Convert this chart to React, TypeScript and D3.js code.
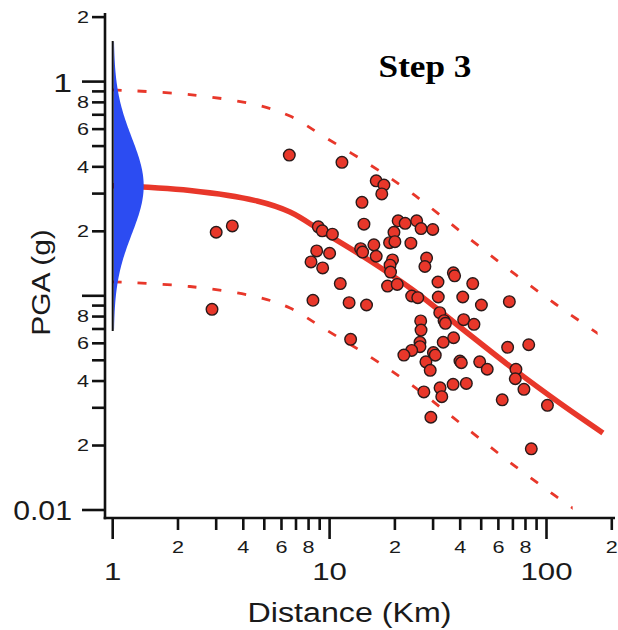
import React from "react";
import * as d3 from "d3";

// ---- data ----
// observed records: [distance km, PGA g]
const records: [number, number][] = [
  [6.52, 0.454], [11.4, 0.42], [14.1, 0.273], [14.4, 0.216], [3.0, 0.198], [3.56, 0.212],
  [8.87, 0.21], [9.25, 0.201], [10.3, 0.194], [8.72, 0.162], [10.0, 0.158], [8.21, 0.144],
  [9.29, 0.135], [11.2, 0.114], [13.9, 0.166], [14.2, 0.16], [16.4, 0.344], [17.8, 0.329],
  [17.4, 0.299], [20.7, 0.224], [22.3, 0.218], [25.2, 0.224], [26.4, 0.206], [29.9, 0.204],
  [19.8, 0.198], [18.9, 0.177], [20.0, 0.179], [23.7, 0.176], [16.0, 0.173], [16.4, 0.153],
  [19.5, 0.147], [19.0, 0.139], [19.1, 0.129], [28.0, 0.15], [27.5, 0.137], [37.2, 0.128],
  [37.7, 0.124], [31.6, 0.116], [45.7, 0.114], [18.5, 0.111], [20.5, 0.113], [2.87, 0.0865],
  [8.38, 0.0953], [12.3, 0.0929], [14.8, 0.0906], [12.5, 0.0626], [23.9, 0.0998], [25.5, 0.098],
  [31.7, 0.0987], [41.1, 0.0987], [50.1, 0.0906], [67.4, 0.0939], [26.3, 0.0763], [26.4, 0.0692],
  [32.2, 0.0834], [33.7, 0.0765], [34.2, 0.0744], [41.5, 0.0774], [46.3, 0.0736], [37.3, 0.0637],
  [33.4, 0.0607], [26.1, 0.0607], [26.1, 0.0579], [23.9, 0.0556], [22.0, 0.0529], [30.1, 0.0543],
  [30.7, 0.0528], [27.8, 0.0492], [29.1, 0.0449], [39.9, 0.0496], [40.5, 0.0487], [49.2, 0.0492],
  [53.3, 0.0454], [66.2, 0.0575], [82.8, 0.0591], [72.3, 0.0454], [71.8, 0.041], [78.7, 0.0366],
  [62.5, 0.0327], [101, 0.0308], [27.2, 0.0356], [32.3, 0.0372], [32.9, 0.0338], [37.1, 0.0386],
  [42.7, 0.039], [29.3, 0.0271], [85.1, 0.0193],
];

// median ground-motion model curve: [distance km, PGA g]
const medianCurve: [number, number][] = [
  [1, 0.326], [2.27, 0.31], [4.63, 0.277], [6.57, 0.246], [9.32, 0.1986], [15.4, 0.1454],
  [24.2, 0.1065], [44.4, 0.0656], [72.3, 0.0446], [115, 0.0316], [182, 0.0229],
];
const sigmaLog10 = 0.224; // model standard deviation (log10 units)
const bandWidthSigmas = 2; // dashed lines at +/- 2 sigma
const upperBandEnd = 172; // km
const lowerBandEnd = 132; // km

// axes
const xMajorTicks = [1, 10, 100];
const xMajorLabels = ["1", "10", "100"];
const xMinorTicks = [2, 3, 4, 5, 6, 7, 8, 9, 20, 30, 40, 50, 60, 70, 80, 90, 200];
const xMinorLabeled = [2, 4, 6, 8, 20, 40, 60, 80, 200];
const yMajorTicks = [1, 0.1, 0.01];
const yMajorLabeled: [number, string][] = [[1, "1"], [0.01, "0.01"]];
const yMinorTicks = [2, 0.9, 0.8, 0.7, 0.6, 0.5, 0.4, 0.3, 0.2, 0.09, 0.08, 0.07, 0.06, 0.05, 0.04, 0.03, 0.02];
const yMinorLabeled = [2, 0.8, 0.6, 0.4, 0.2, 0.08, 0.06, 0.04, 0.02];

const W = 618;
const H = 630;
const RED = "#e8372a";
const BLUE = "#2c4cf2";
const SANS = "'Liberation Sans', Arial, Helvetica, sans-serif";

const leadDigit = (v: number) => String(Math.round(v / Math.pow(10, Math.floor(Math.log10(v) + 1e-9))));

export default function App() {
  const x = d3.scaleLog().domain([1, 100]).range([112.7, 546.5]);
  const y = d3.scaleLog().domain([0.01, 1]).range([510, 81.6]);

  const axisX0 = 105;
  const axisY0 = 518;

  const line = d3
    .line<[number, number]>()
    .x((d) => x(d[0]))
    .y((d) => y(d[1]))
    .curve(d3.curveCatmullRom.alpha(0.5));
  const factor = Math.pow(10, bandWidthSigmas * sigmaLog10);
  const upper = medianCurve.map(([d, v]) => [d, v * factor] as [number, number]);
  const lower = medianCurve.map(([d, v]) => [d, v / factor] as [number, number]);

  // density of the model at 1 km (log-normal), drawn sideways
  const m0 = medianCurve[0][1];
  const zs = d3.range(-3, 3.0001, 0.05);
  const densMax = 30;
  const area = d3
    .area<number>()
    .y((z) => y(m0 * Math.pow(10, z * sigmaLog10)))
    .x0(() => x(1) + 1)
    .x1((z) => x(1) + 1 + densMax * Math.exp((-z * z) / 2))
    .curve(d3.curveBasis);

  return (
    <svg width={W} height={H} style={{ position: "absolute", left: 0, top: 0, background: "#fff" }}>
      <defs>
        <clipPath id="clipUp">
          <rect x={0} y={0} width={x(upperBandEnd)} height={H} />
        </clipPath>
        <clipPath id="clipLo">
          <rect x={0} y={0} width={x(lowerBandEnd)} height={H} />
        </clipPath>
      </defs>

      {/* band lines */}
      <path d={line(upper) || ""} fill="none" stroke={RED} strokeWidth={2.8} strokeDasharray="9 16" clipPath="url(#clipUp)" />
      <path d={line(lower) || ""} fill="none" stroke={RED} strokeWidth={2.8} strokeDasharray="9 16" clipPath="url(#clipLo)" />
      {/* median */}
      <path d={line(medianCurve) || ""} fill="none" stroke={RED} strokeWidth={5.5} strokeLinecap="butt" />

      {/* density */}
      <path d={area(zs) || ""} fill={BLUE} />
      <line x1={x(1)} x2={x(1)} y1={41} y2={331} stroke="#111" strokeWidth={2} />

      {/* points */}
      {records.map(([d, v], i) => (
        <circle key={i} cx={x(d)} cy={y(v)} r={5.8} fill={RED} stroke="#2a1a1a" strokeWidth={1.4} />
      ))}

      {/* axes */}
      <g stroke="#111" strokeWidth={2.6} strokeLinecap="butt">
        <line x1={axisX0} x2={axisX0} y1={13} y2={axisY0 + 1.3} />
        <line x1={axisX0 - 1.3} x2={615} y1={axisY0} y2={axisY0} />
        {yMajorTicks.map((v) => (
          <line key={"yM" + v} x1={82} x2={axisX0} y1={y(v)} y2={y(v)} />
        ))}
        {yMinorTicks.map((v) => (
          <line key={"ym" + v} x1={92} x2={axisX0} y1={y(v)} y2={y(v)} />
        ))}
        {xMajorTicks.map((v) => (
          <line key={"xM" + v} x1={x(v)} x2={x(v)} y1={axisY0} y2={539} />
        ))}
        {xMinorTicks.map((v) => (
          <line key={"xm" + v} x1={x(v)} x2={x(v)} y1={axisY0} y2={530} />
        ))}
      </g>

      <g fill="#1a1a1a" fontFamily={SANS}>
        {yMinorLabeled.map((v) => (
          <text key={"yl" + v} transform={`translate(89,${y(v) + 5.8}) scale(1.35,1)`} fontSize={16} textAnchor="end">
            {leadDigit(v)}
          </text>
        ))}
        {yMajorLabeled.map(([v, t]) => (
          <text
            key={"yL" + v}
            transform={`translate(72,${y(v) + 10}) scale(${t.length > 1 ? 1.12 : 1.3},1)`}
            fontSize={t.length > 1 ? 27 : 26}
            textAnchor="end"
          >
            {t}
          </text>
        ))}
        {xMinorLabeled.map((v) => (
          <text key={"xl" + v} transform={`translate(${x(v)},553) scale(1.35,1)`} fontSize={16} textAnchor="middle">
            {leadDigit(v)}
          </text>
        ))}
        {xMajorTicks.map((v, i) => (
          <text key={"xL" + v} transform={`translate(${x(v)},580) scale(1.3,1)`} fontSize={24} textAnchor="middle">
            {xMajorLabels[i]}
          </text>
        ))}
        <text transform="translate(349.5,622) scale(1.15,1)" fontSize={28} textAnchor="middle">
          Distance (Km)
        </text>
        <text transform="translate(50,282.5) rotate(-90) scale(1.2,1)" fontSize={25} textAnchor="middle">
          PGA (g)
        </text>
      </g>

      <text
        transform="translate(425,77) scale(1.1,1)"
        fontFamily="'Liberation Serif', 'Times New Roman', serif"
        fontWeight="bold"
        fontSize={32}
        textAnchor="middle"
        fill="#000"
      >
        Step 3
      </text>
    </svg>
  );
}
